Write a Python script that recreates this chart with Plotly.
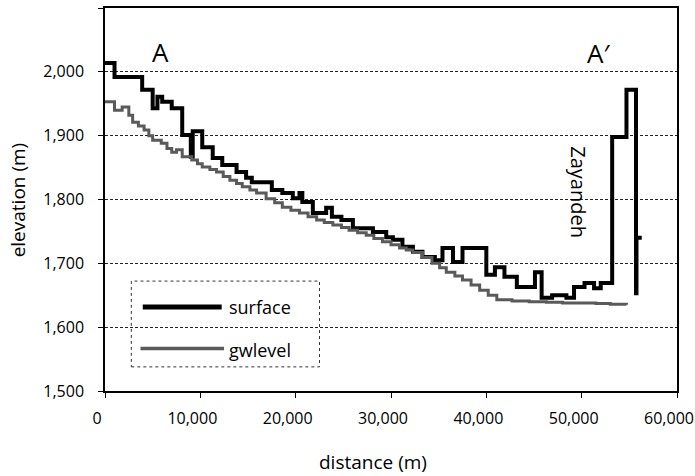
import plotly.graph_objects as go

# ---- data ----
surface_dist = [0, 1000, 3900, 5000, 5500, 6000, 7000, 8100, 9000, 9200, 10200,
                11300, 12300, 13800, 14800, 15400, 17500, 18600, 19700, 20400,
                20700, 21800, 23200, 23800, 24800, 26000, 28100, 29500, 30200,
                31200, 32300, 33300, 34600, 35400, 36500, 37500, 40000, 40900,
                41900, 43200, 45100, 45800, 46900, 48400, 49200, 50300, 51300,
                52000, 53200, 54400, 54700, 55700, 55750, 56300]
surface_elev = [2014, 1992, 1972, 1943, 1961, 1953, 1943, 1901, 1867, 1907, 1882,
                1865, 1854, 1843, 1834, 1827, 1815, 1810, 1802, 1810,
                1796, 1779, 1787, 1773, 1768, 1755, 1749, 1741, 1737,
                1726, 1718, 1710, 1705, 1724, 1702, 1724, 1682, 1694,
                1679, 1663, 1686, 1646, 1650, 1646, 1663, 1669, 1661,
                1669, 1898, 1898, 1972, 1653, 1740, 1740]

gw_dist = [0, 1000, 1800, 2500, 2900, 3500, 4100, 4600, 5000, 5900, 6500, 7000,
           7500, 8100, 9100, 9700, 10200, 11000, 11700, 12400, 13100, 13800,
           14400, 15200, 15900, 16900, 17800, 18600, 19500, 20400, 21300, 22200,
           23000, 23900, 24800, 25600, 26500, 27400, 28200, 29100, 30000, 30900,
           31600, 32300, 33300, 34300, 35100, 35800, 36700, 37500, 38400, 39300,
           40200, 41100, 42700, 44500, 46300, 48000, 49800, 51500, 53000, 54700]
gw_elev = [1953, 1940, 1945, 1932, 1921, 1915, 1909, 1900, 1893, 1888, 1880, 1874,
           1878, 1867, 1862, 1856, 1851, 1847, 1843, 1836, 1830, 1825,
           1820, 1815, 1810, 1801, 1795, 1788, 1783, 1779, 1773, 1768,
           1764, 1760, 1756, 1752, 1748, 1744, 1739, 1734, 1729, 1724,
           1721, 1717, 1709, 1700, 1693, 1686, 1680, 1674, 1666, 1658,
           1650, 1643, 1641, 1640, 1639, 1638, 1638, 1637, 1636, 1635]

x_ticks = [0, 10000, 20000, 30000, 40000, 50000, 60000]
y_ticks = [1500, 1600, 1700, 1800, 1900, 2000, 2100]
series_names = ["surface", "gwlevel"]

FONT = "Open Sans"
SURF_STYLE = dict(color="black", width=4)
GW_STYLE = dict(color="#5a5a5a", width=3)

fig = go.Figure()
fig.add_trace(go.Scatter(x=surface_dist, y=surface_elev, mode="lines", name=series_names[0],
                         line=dict(**SURF_STYLE, shape="hv")))
fig.add_trace(go.Scatter(x=gw_dist, y=gw_elev, mode="lines", name=series_names[1],
                         line=dict(**GW_STYLE, shape="hv")))

# legend drawn as a dotted box with sample lines and labels
legend_shapes = [
    dict(type="rect", xref="paper", yref="paper",
         x0=0.046, x1=0.375, y0=0.063, y1=0.287,
         line=dict(color="#333", width=1, dash="dot")),
    dict(type="line", xref="paper", yref="paper", x0=0.066, x1=0.204,
         y0=0.219, y1=0.219, line=dict(color="black", width=5)),
    dict(type="line", xref="paper", yref="paper", x0=0.062, x1=0.208,
         y0=0.111, y1=0.111, line=dict(color=GW_STYLE["color"], width=3.5)),
]
legend_texts = [
    dict(xref="paper", yref="paper", x=0.214, y=0.219, text=series_names[0],
         xanchor="left", yanchor="middle", showarrow=False, font=dict(size=18)),
    dict(xref="paper", yref="paper", x=0.214, y=0.108, text=series_names[1],
         xanchor="left", yanchor="middle", showarrow=False, font=dict(size=18)),
]

fig.update_layout(
    width=695, height=476,
    margin=dict(l=105, r=18, t=8, b=85),
    paper_bgcolor="white", plot_bgcolor="white",
    font=dict(family=FONT, size=16, color="black"),
    showlegend=False,
    xaxis=dict(range=[0, 60000], tickvals=x_ticks, tickformat=",",
               showline=True, linecolor="black", linewidth=1.5, mirror=True,
               ticks="outside", ticklen=5, tickcolor="black",
               showgrid=False, zeroline=False, ticklabelstandoff=7,
               ticklabelshift=-8, ticklabeloverflow="allow",
               automargin=False, tickfont=dict(size=16)),
    yaxis=dict(range=[1500, 2100], tickvals=y_ticks, tickformat=",",
               showline=True, linecolor="black", linewidth=1.5, mirror=True,
               ticks="outside", ticklen=5, tickcolor="black",
               showgrid=True, gridcolor="#222", gridwidth=1, griddash="3px,2px",
               zeroline=False, ticklabelstandoff=11, automargin=False,
               tickfont=dict(size=16)),
    shapes=legend_shapes,
    annotations=[
        dict(xref="paper", yref="paper", x=0.469, y=-0.185, text="distance (m)",
             showarrow=False, font=dict(size=19), xanchor="center", yanchor="middle"),
        dict(xref="paper", yref="paper", x=-0.153, y=0.499, text="elevation (m)",
             textangle=-90, showarrow=False, font=dict(size=19),
             xanchor="center", yanchor="middle"),
        dict(x=5820, y=2031, text="A", showarrow=False, font=dict(size=26)),
        dict(x=51770, y=2030, text="A′", showarrow=False, font=dict(size=26)),
        dict(x=49680, y=1812, text="Zayandeh", textangle=90, showarrow=False,
             font=dict(size=20)),
    ] + legend_texts,
)

fig.write_html("out.html", config={"displayModeBar": False},
               post_script="document.body.style.margin='0px';")
